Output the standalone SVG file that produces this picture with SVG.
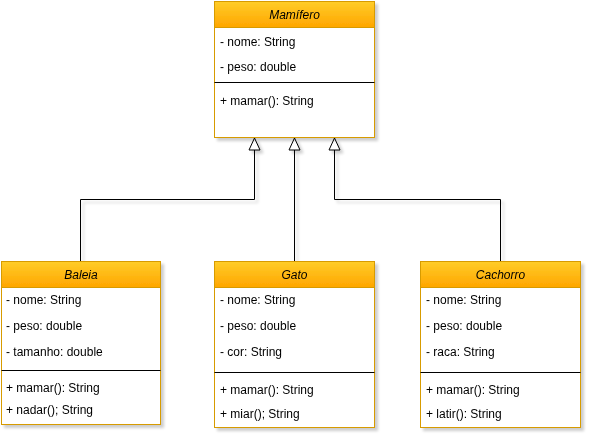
<svg xmlns="http://www.w3.org/2000/svg" width="592" height="443" viewBox="0 0 592 443">
<style>
text{font-family:"Liberation Sans",Arial,sans-serif;font-size:12px;fill:#000}
.h{font-style:italic;text-anchor:middle}
.box{fill:#fff;stroke:#d79b00;stroke-width:1}
.hd{fill:url(#g);stroke:#d79b00;stroke-width:1}
.sep{stroke:#000;stroke-width:1}
.c{fill:none;stroke:#000;stroke-width:1}
.ah{fill:#fff;stroke:#000;stroke-width:1}
</style>
<defs>
<linearGradient id="g" x1="0" y1="0" x2="0" y2="1"><stop offset="0" stop-color="#ffcd28"/><stop offset="1" stop-color="#ffa500"/></linearGradient>
<filter id="sh" x="-10%" y="-10%" width="130%" height="130%"><feGaussianBlur in="SourceAlpha" stdDeviation="1.7"/><feOffset dx="3" dy="3"/><feComponentTransfer><feFuncA type="linear" slope="0.2"/></feComponentTransfer><feMerge><feMergeNode/><feMergeNode in="SourceGraphic"/></feMerge></filter>
</defs>
<g id="connectors" filter="url(#sh)">
<path class="c" d="M80.5 261V199.5H254.5V150"/>
<path class="ah" d="M254.5 138L249 150H260Z"/>
<path class="c" d="M294.5 261V150"/>
<path class="ah" d="M294.5 138L289 150H300Z"/>
<path class="c" d="M500.5 261V199.5H334.5V150"/>
<path class="ah" d="M334.5 138L329 150H340Z"/>
</g>
<g id="mamifero" filter="url(#sh)">
<rect class="box" x="214.5" y="1.5" width="160" height="136"/>
<rect class="hd" x="214.5" y="1.5" width="160" height="26"/>
<text class="h" x="294.5" y="18.5">Mamífero</text>
<text x="220" y="45.5">- nome: String</text>
<text x="220" y="70.5">- peso: double</text>
<line class="sep" x1="214.5" y1="82.5" x2="374.5" y2="82.5"/>
<text x="220" y="104.5">+ mamar(): String</text>
</g>
<g id="baleia" filter="url(#sh)">
<rect class="box" x="1.5" y="261.5" width="159" height="163"/>
<rect class="hd" x="1.5" y="261.5" width="159" height="26"/>
<text class="h" x="81" y="278.5">Baleia</text>
<text x="6" y="303.5">- nome: String</text>
<text x="6" y="329.5">- peso: double</text>
<text x="6" y="355.5">- tamanho: double</text>
<line class="sep" x1="1.5" y1="370.5" x2="160.5" y2="370.5"/>
<text x="6" y="391.5">+ mamar(): String</text>
<text x="6" y="413.5">+ nadar(); String</text>
</g>
<g id="gato" filter="url(#sh)">
<rect class="box" x="214.5" y="261.5" width="160" height="166"/>
<rect class="hd" x="214.5" y="261.5" width="160" height="26"/>
<text class="h" x="294.5" y="278.5">Gato</text>
<text x="220" y="303.5">- nome: String</text>
<text x="220" y="329.5">- peso: double</text>
<text x="220" y="355.5">- cor: String</text>
<line class="sep" x1="214.5" y1="372.5" x2="374.5" y2="372.5"/>
<text x="220" y="393.5">+ mamar(): String</text>
<text x="220" y="417.5">+ miar(); String</text>
</g>
<g id="cachorro" filter="url(#sh)">
<rect class="box" x="420.5" y="261.5" width="160" height="166"/>
<rect class="hd" x="420.5" y="261.5" width="160" height="26"/>
<text class="h" x="500.5" y="278.5">Cachorro</text>
<text x="426" y="303.5">- nome: String</text>
<text x="426" y="329.5">- peso: double</text>
<text x="426" y="355.5">- raca: String</text>
<line class="sep" x1="420.5" y1="372.5" x2="580.5" y2="372.5"/>
<text x="426" y="393.5">+ mamar(): String</text>
<text x="426" y="417.5">+ latir(): String</text>
</g>
</svg>
